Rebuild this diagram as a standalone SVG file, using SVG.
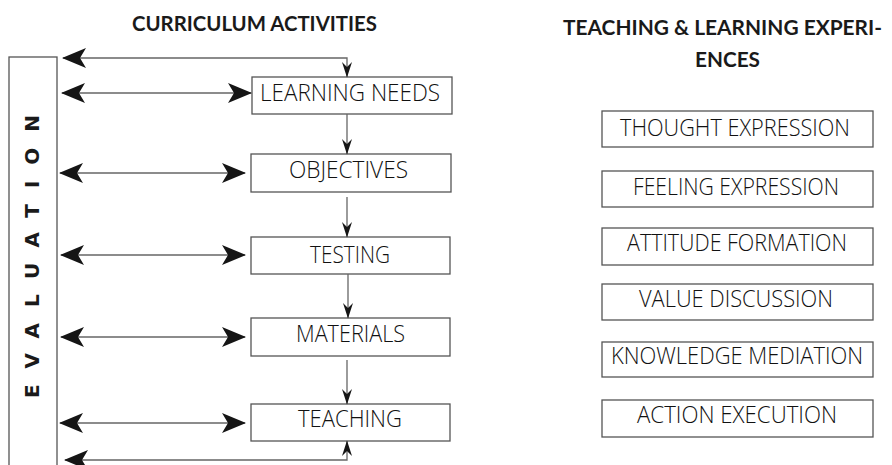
<svg xmlns="http://www.w3.org/2000/svg" width="892" height="465" viewBox="0 0 892 465">
<defs>
<marker id="big" markerUnits="userSpaceOnUse" markerWidth="28" markerHeight="24" viewBox="-26 -12 28 24" refX="0" refY="0" orient="auto-start-reverse">
<path d="M1,0 L-23,-10 L-17,0 L-23,10 Z" fill="#151515"/>
</marker>
<marker id="small" markerUnits="userSpaceOnUse" markerWidth="18" markerHeight="14" viewBox="-16 -7 18 14" refX="0" refY="0" orient="auto">
<path d="M0.5,0 L-15,-5 L-10,0 L-15,5 Z" fill="#151515"/>
</marker>
</defs>
<style>
.box{fill:#fff;stroke:#555;stroke-width:1.3}
.lbl{font-family:"Open Sans","Liberation Sans",sans-serif;font-weight:300;font-size:23px;fill:#111;text-anchor:start}
.ttl{font-family:Lato,"Liberation Sans",sans-serif;font-weight:bold;font-size:20px;fill:#1a1a1a}
.conn{fill:none;stroke:#666;stroke-width:1.3}
.ev{font-family:"DejaVu Sans","Liberation Sans",sans-serif;font-weight:bold;font-size:20px;fill:#1a1a1a}
</style>
<rect width="892" height="465" fill="#fff"/>

<g id="title-curriculum"><text class="ttl" x="132" y="31" textLength="245" lengthAdjust="spacingAndGlyphs">CURRICULUM ACTIVITIES</text></g>
<g id="title-teaching">
<text class="ttl" x="563" y="35" textLength="319" lengthAdjust="spacingAndGlyphs">TEACHING &amp; LEARNING EXPERI-</text>
<text class="ttl" x="695" y="67" textLength="65" lengthAdjust="spacingAndGlyphs">ENCES</text>
</g>

<g id="evaluation">
<rect class="box" x="9" y="57" width="48" height="430"/>
<text class="ev" transform="translate(39,398) rotate(-90)" x="0" y="0" textLength="283" lengthAdjust="spacing">EVALUATION</text>
</g>

<g id="learning-needs"><rect class="box" x="252" y="77" width="200" height="37"/><text class="lbl" x="260" y="101" textLength="180" lengthAdjust="spacingAndGlyphs">LEARNING  NEEDS</text></g>
<g id="objectives"><rect class="box" x="251" y="154" width="200" height="38"/><text class="lbl" x="289" y="178" textLength="119" lengthAdjust="spacingAndGlyphs">OBJECTIVES</text></g>
<g id="testing"><rect class="box" x="251" y="237" width="199" height="37"/><text class="lbl" x="310" y="263" textLength="80" lengthAdjust="spacingAndGlyphs">TESTING</text></g>
<g id="materials"><rect class="box" x="251" y="318" width="199" height="38"/><text class="lbl" x="296" y="342" textLength="109" lengthAdjust="spacingAndGlyphs">MATERIALS</text></g>
<g id="teaching"><rect class="box" x="251" y="404" width="199" height="37"/><text class="lbl" x="298" y="427" textLength="104" lengthAdjust="spacingAndGlyphs">TEACHING</text></g>

<g id="thought-expression"><rect class="box" x="602" y="111" width="271" height="36"/><text class="lbl" x="620" y="136" textLength="230" lengthAdjust="spacingAndGlyphs">THOUGHT EXPRESSION</text></g>
<g id="feeling-expression"><rect class="box" x="602" y="171" width="271" height="36"/><text class="lbl" x="633" y="195" textLength="206" lengthAdjust="spacingAndGlyphs">FEELING EXPRESSION</text></g>
<g id="attitude-formation"><rect class="box" x="602" y="228" width="271" height="37"/><text class="lbl" x="627" y="251" textLength="220" lengthAdjust="spacingAndGlyphs">ATTITUDE FORMATION</text></g>
<g id="value-discussion"><rect class="box" x="602" y="284" width="271" height="36"/><text class="lbl" x="639" y="307" textLength="194" lengthAdjust="spacingAndGlyphs">VALUE DISCUSSION</text></g>
<g id="knowledge-mediation"><rect class="box" x="602" y="342" width="271" height="35"/><text class="lbl" x="611" y="364" textLength="252" lengthAdjust="spacingAndGlyphs">KNOWLEDGE MEDIATION</text></g>
<g id="action-execution"><rect class="box" x="602" y="400" width="271" height="37"/><text class="lbl" x="637" y="423" textLength="200" lengthAdjust="spacingAndGlyphs">ACTION EXECUTION</text></g>

<g id="connectors">
<path class="conn" d="M63,58 H347 V77" marker-start="url(#big)" marker-end="url(#small)"/>
<path class="conn" d="M62,93 H251" marker-start="url(#big)" marker-end="url(#big)"/>
<path class="conn" d="M60,173 H245" marker-start="url(#big)" marker-end="url(#big)"/>
<path class="conn" d="M61,255 H245" marker-start="url(#big)" marker-end="url(#big)"/>
<path class="conn" d="M61,337 H245" marker-start="url(#big)" marker-end="url(#big)"/>
<path class="conn" d="M60,423 H245" marker-start="url(#big)" marker-end="url(#big)"/>
<path class="conn" d="M65,460 H347 V441" marker-start="url(#big)" marker-end="url(#small)"/>
<path class="conn" d="M347,114 V154" marker-end="url(#small)"/>
<path class="conn" d="M347,197 V237" marker-end="url(#small)"/>
<path class="conn" d="M348,274 V318" marker-end="url(#small)"/>
<path class="conn" d="M347,360 V404" marker-end="url(#small)"/>
</g>
</svg>
